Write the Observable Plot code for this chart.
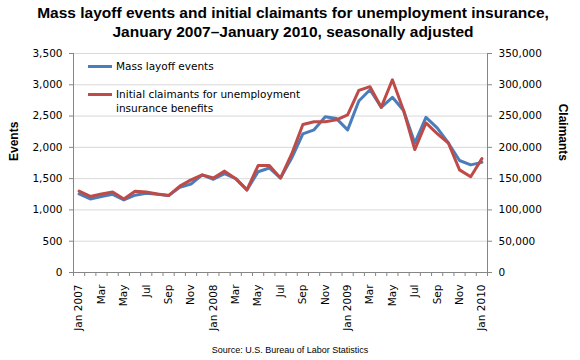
<!DOCTYPE html>
<html>
<head>
<meta charset="utf-8">
<script src="https://cdn.jsdelivr.net/npm/d3@7"></script>
<script src="https://cdn.jsdelivr.net/npm/@observablehq/plot@0.6"></script>
<style>
  body { margin: 0; background: #fff; }
  #wrap { position: relative; width: 580px; height: 360px; overflow: hidden; background: #fff; }
  #title { height: 44px; box-sizing: border-box; padding-top: 3px; padding-left: 6px; text-align: center;
           font: bold 15.5px "Liberation Sans", Arial, sans-serif; line-height: 19px; color: #000; }
  #chart svg { display: block; }
  .lg-line { position: absolute; left: 88px; width: 24px; height: 3px; }
  .lg-text { position: absolute; left: 116px; font: 10.5px "DejaVu Sans", Verdana, sans-serif; line-height: 14px; color: #000; }
  #source { position: absolute; left: 0; width: 580px; top: 345px; text-align: center;
            font: 9px "Liberation Sans", Arial, sans-serif; color: #000; }
</style>
</head>
<body>
<div id="wrap">
  <div id="title">Mass layoff events and initial claimants for unemployment insurance,<br>January 2007–January 2010, seasonally adjusted</div>
  <div id="chart"></div>
  <div class="lg-line" style="top:65px;background:#4A7EBB"></div>
  <div class="lg-text" style="top:59px">Mass layoff events</div>
  <div class="lg-line" style="top:93px;background:#BE4B48"></div>
  <div class="lg-text" style="top:87px">Initial claimants for unemployment<br>insurance benefits</div>
  <div id="source">Source: U.S. Bureau of Labor Statistics</div>
</div>
<script>
const months = ["Jan 2007","Feb","Mar","Apr","May","Jun","Jul","Aug","Sep","Oct","Nov","Dec",
  "Jan 2008","Feb","Mar","Apr","May","Jun","Jul","Aug","Sep","Oct","Nov","Dec",
  "Jan 2009","Feb","Mar","Apr","May","Jun","Jul","Aug","Sep","Oct","Nov","Dec",
  "Jan 2010"];
const events = [1255,1175,1215,1250,1160,1235,1265,1250,1230,1360,1415,1560,
  1490,1580,1500,1320,1610,1670,1510,1830,2215,2280,2490,2460,
  2280,2740,2920,2640,2800,2590,2070,2480,2310,2070,1790,1720,
  1760];
const claimants = [130000,121500,125500,128500,117500,130000,128500,125500,123000,138000,148000,156000,
  151000,162000,150000,132000,171000,171000,151000,189500,236500,241000,241000,244000,
  252000,291000,297000,264000,308000,259000,196500,239000,222000,207000,164000,153000,
  182000];

const yTicks = d3.range(0, 3501, 500);
const data = months.map((m, i) => ({i, m, events: events[i], claimants: claimants[i]}));
const boundaries = d3.range(-0.5, months.length, 1);
const labelIdx = d3.range(0, months.length, 2);
const axisGray = "#868686";

const chart = Plot.plot({
  width: 580,
  height: 296,
  marginTop: 9,
  marginBottom: 68,
  marginLeft: 73,
  marginRight: 93,
  x: {domain: [-0.5, months.length - 0.5]},
  y: {domain: [0, 3500]},
  style: {fontFamily: "'DejaVu Sans', Verdana, sans-serif", fontSize: "10.5px", color: "#000", background: "#fff"},
  marks: [
    Plot.gridY(yTicks.filter(d => d > 0), {stroke: "#d9d9d9", strokeOpacity: 1}),
    Plot.axisY(yTicks, {anchor: "left", tickSize: 4, tickPadding: 7, tickFormat: d3.format(","), stroke: axisGray, fill: "#000", label: null}),
    Plot.axisY(yTicks, {anchor: "right", tickSize: 4, tickPadding: 7, tickFormat: d => d3.format(",")(d * 100), stroke: axisGray, fill: "#000", label: null}),
    Plot.axisX(boundaries, {tickSize: 4, tickFormat: () => "", stroke: axisGray, label: null}),
    Plot.axisX(labelIdx, {tickSize: 0, tickPadding: 12, tickRotate: -90, tickFormat: i => months[i], fill: "#000", label: null}),
    Plot.ruleX([-0.5, months.length - 0.5], {stroke: axisGray}),
    Plot.ruleY([0], {stroke: axisGray}),
    Plot.line(data, {x: "i", y: "events", stroke: "#4A7EBB", strokeWidth: 3}),
    Plot.line(data, {x: "i", y: d => d.claimants / 100, stroke: "#BE4B48", strokeWidth: 3}),
    Plot.text(["Events"], {frameAnchor: "left", dx: -59, dy: -2, rotate: -90, fontWeight: "bold", fontSize: 12, fontFamily: "'Liberation Sans', Arial, sans-serif", fill: "#000"}),
    Plot.text(["Claimants"], {frameAnchor: "right", dx: 75, dy: -2, rotate: 90, fontWeight: "bold", fontSize: 12, fontFamily: "'Liberation Sans', Arial, sans-serif", fill: "#000"})
  ]
});
document.getElementById("chart").appendChild(chart);
</script>
</body>
</html>
